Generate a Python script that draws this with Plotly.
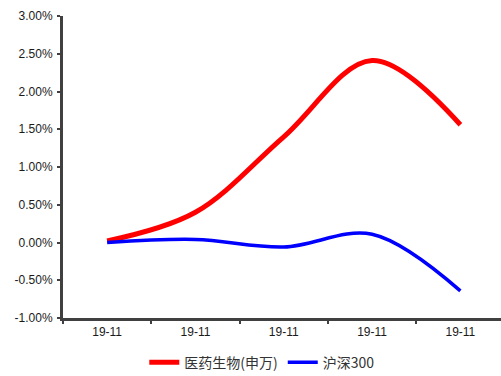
import plotly.graph_objects as go

# Weekly return comparison, values in %
periods = ["19-11", "19-11", "19-11", "19-11", "19-11"]
pharma = [0.02, 0.40, 1.40, 2.41, 1.56]      # 医药生物(申万)
hs300 = [0.00, 0.04, -0.06, 0.11, -0.64]      # 沪深300

x_idx = list(range(len(periods)))
y_ticks = [-1.0, -0.5, 0.0, 0.5, 1.0, 1.5, 2.0, 2.5, 3.0]

fig = go.Figure()
fig.add_trace(go.Scatter(
    x=x_idx, y=pharma, mode="lines", name="医药生物(申万)",
    line=dict(color="#ff0000", width=5, shape="spline", smoothing=1.0),
))
fig.add_trace(go.Scatter(
    x=x_idx, y=hs300, mode="lines", name="沪深300",
    line=dict(color="#0000ff", width=3.5, shape="spline", smoothing=1.0),
))

axis_color = "#404040"
fig.update_layout(
    width=501, height=376,
    margin=dict(l=63, r=0, t=16, b=58, autoexpand=False),
    paper_bgcolor="white", plot_bgcolor="white",
    font=dict(family="Liberation Sans, Arial, sans-serif", size=12, color="#1a1a1a"),
    showlegend=True,
    legend=dict(
        orientation="h", x=0.455, xanchor="center", y=-0.095, yanchor="top",
        font=dict(family="Noto Sans CJK SC, sans-serif", size=14, color="#333333"),
        itemwidth=30, tracegroupgap=0,
    ),
)
fig.update_xaxes(
    range=[-0.5, 4.46], showgrid=False, zeroline=False,
    showline=True, linecolor=axis_color, linewidth=3,
    tickmode="array", tickvals=x_idx, ticktext=periods,
    ticks="", ticklabelstandoff=1,
    minor=dict(tickmode="array", tickvals=[-0.5, 0.5, 1.5, 2.5, 3.5],
               ticks="outside", ticklen=3, tickwidth=2, tickcolor=axis_color),
)
fig.update_yaxes(
    range=[-1.0, 3.0], showgrid=False, zeroline=False,
    showline=True, linecolor=axis_color, linewidth=3,
    tickmode="array", tickvals=y_ticks,
    ticktext=[f"{v:.2f}%" for v in y_ticks],
    ticks="outside", ticklen=3, tickwidth=2, tickcolor=axis_color,
    ticklabelstandoff=2,
)

fig.write_html("out.html")
